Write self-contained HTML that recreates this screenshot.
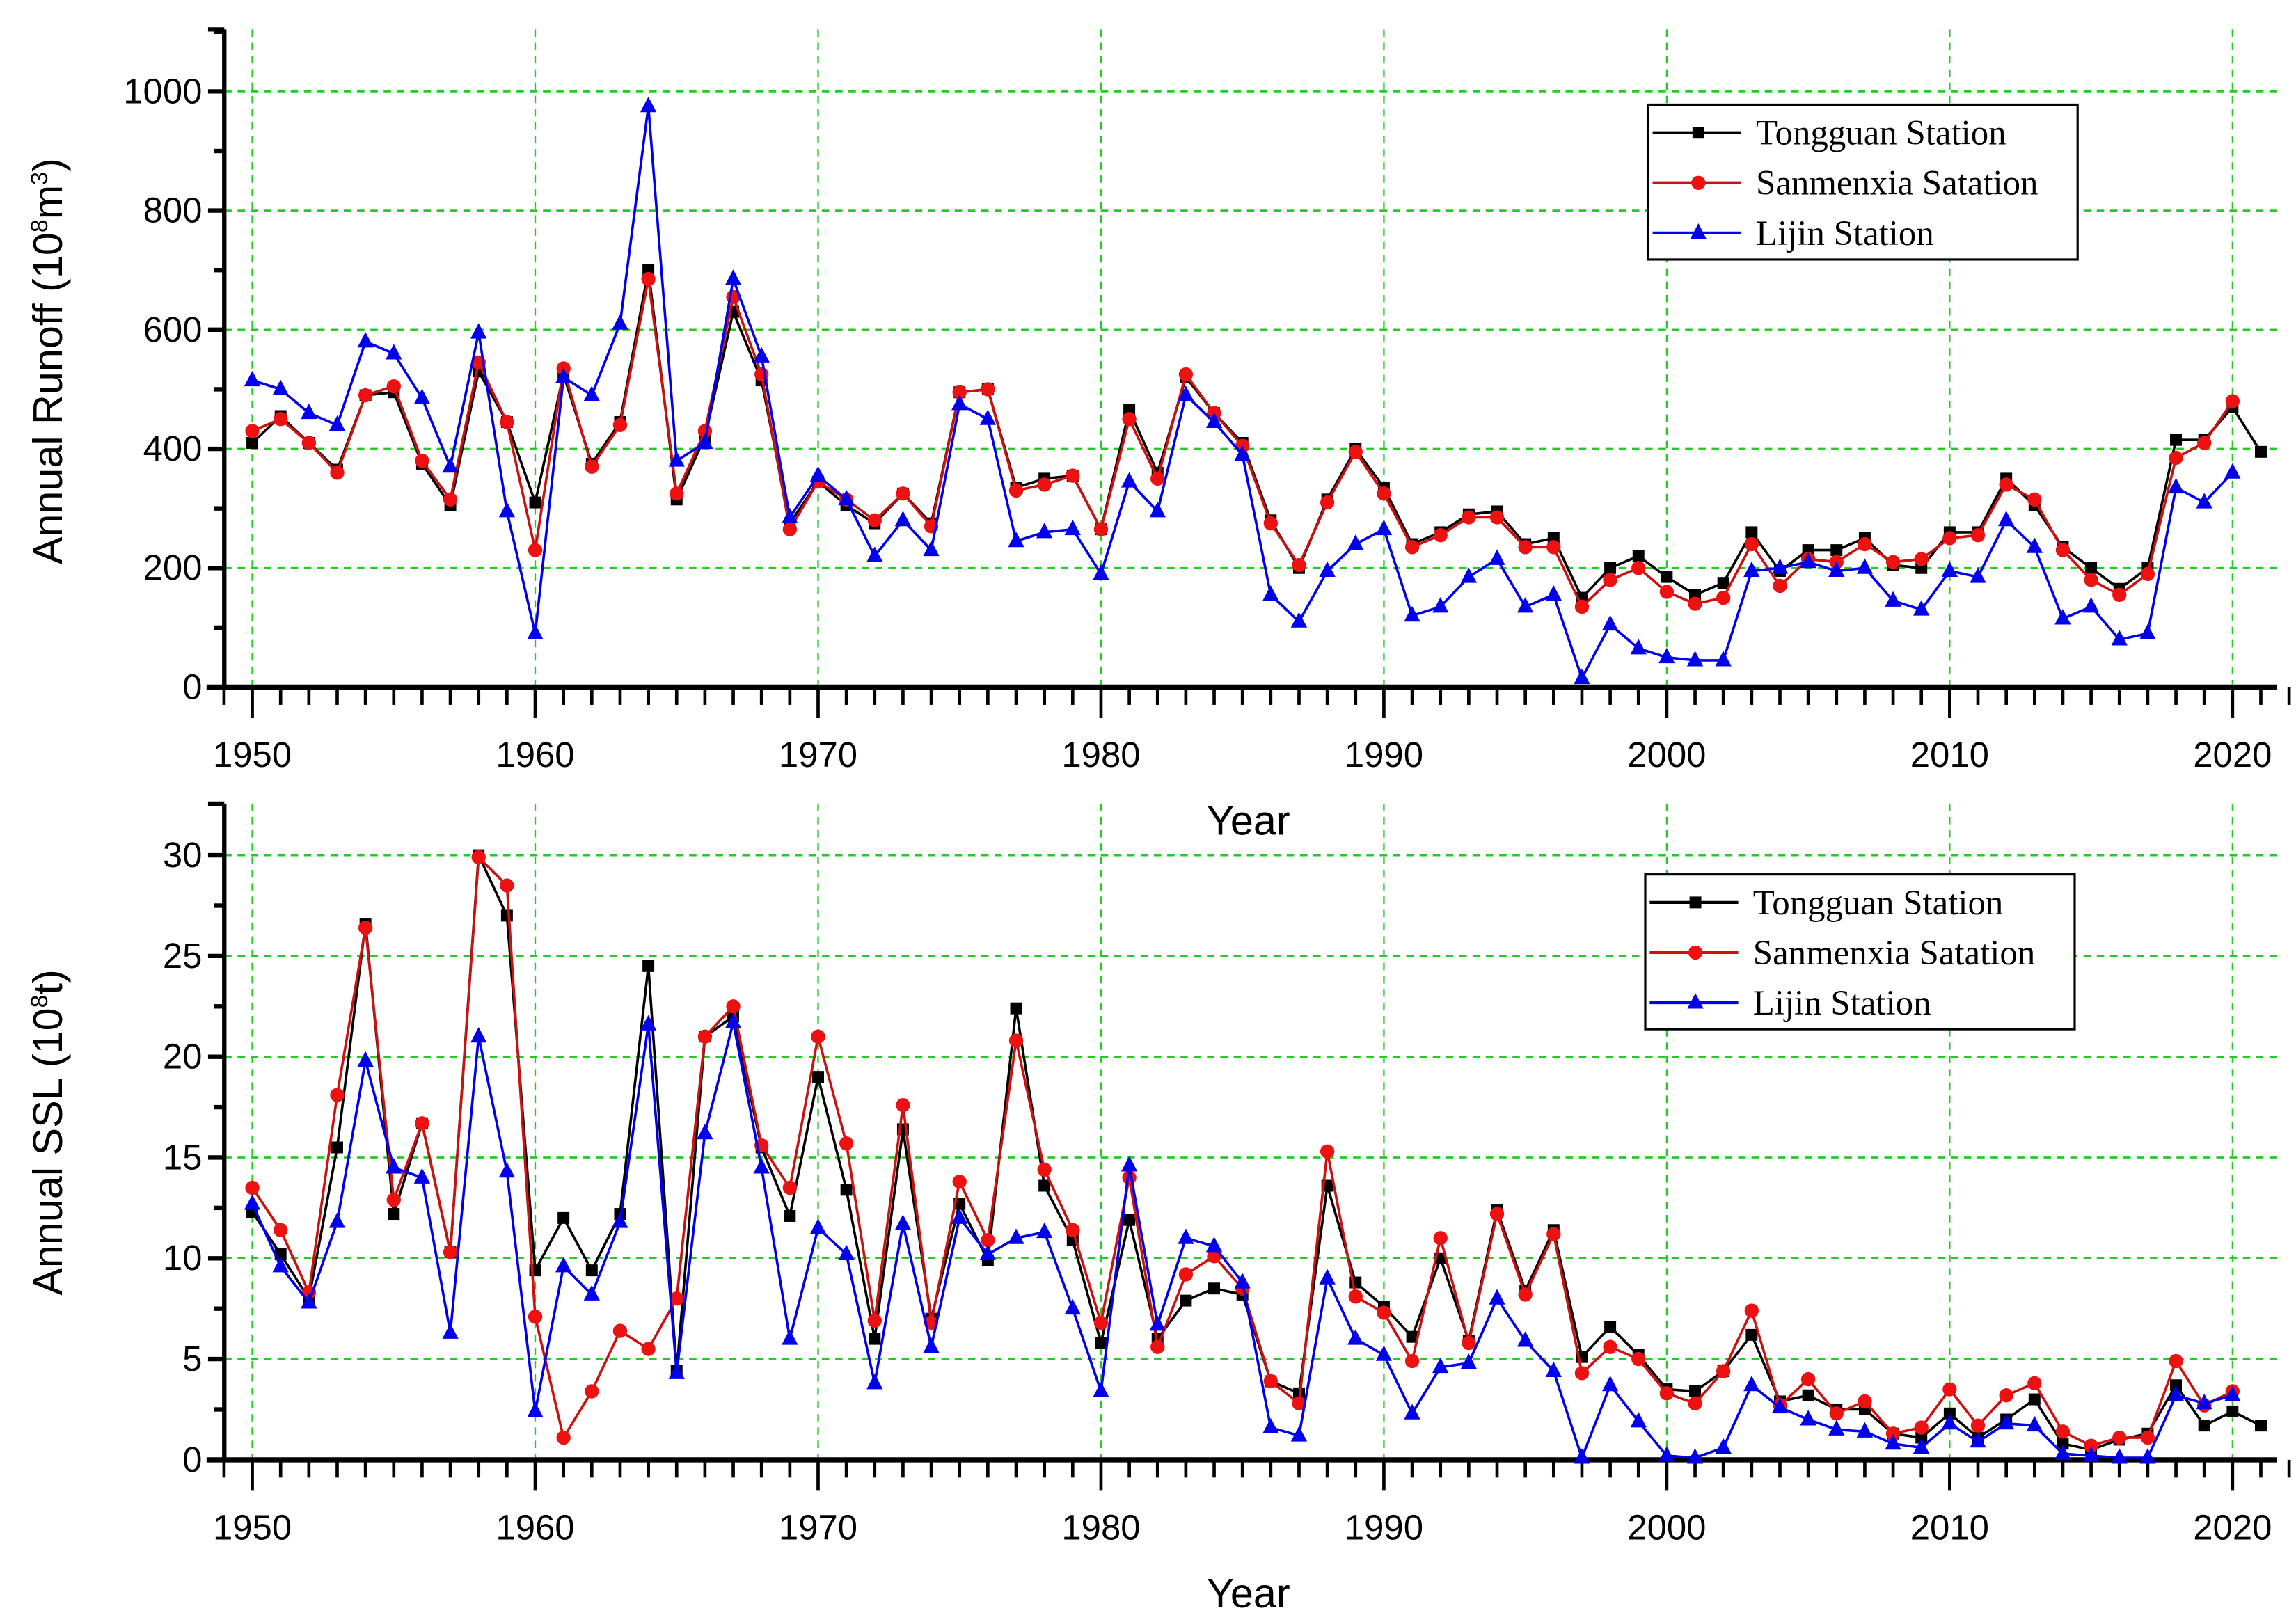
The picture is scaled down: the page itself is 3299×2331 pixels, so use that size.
<!DOCTYPE html>
<html><head><meta charset="utf-8"><style>
html,body{margin:0;padding:0;background:#fff;}
svg{display:block;}
</style></head><body>
<svg id="chart" width="3299" height="2331" viewBox="0 0 1556 1100" preserveAspectRatio="none" xmlns="http://www.w3.org/2000/svg"></svg>
<script>
const years = [];
for (let y = 1950; y <= 2021; y++) years.push(y);
const runoffTongguan = [410,455,410,365,490,495,375,305,530,445,310,525,375,445,700,315,420,630,515,275,345,305,275,325,275,495,500,335,350,355,265,465,360,520,460,410,280,200,315,400,335,240,260,290,295,240,250,150,200,220,185,155,175,260,195,230,230,250,205,200,260,260,350,305,235,200,165,200,415,415,470,395];
const runoffSanmenxia = [430,450,410,360,490,505,380,315,545,445,230,535,370,440,685,325,430,655,525,265,345,315,280,325,270,495,500,330,340,355,265,450,350,525,460,405,275,205,310,395,325,235,255,285,285,235,235,135,180,200,160,140,150,240,170,215,210,240,210,215,250,255,340,315,230,180,155,190,385,410,480];
const runoffLijin = [515,500,460,440,580,560,485,370,595,295,90,520,490,610,975,380,410,685,555,285,355,315,220,280,230,475,450,245,260,265,190,345,295,490,445,390,155,110,195,240,265,120,135,185,215,135,155,15,105,65,50,45,45,195,200,210,195,200,145,130,195,185,280,235,115,135,80,90,335,310,360];
const sslTongguan = [12.3,10.2,8,15.5,26.6,12.2,16.7,10.3,30,27,9.4,12,9.4,12.2,24.5,4.4,21,22,15.5,12.1,19,13.4,6,16.4,7,12.7,9.9,22.4,13.6,10.9,5.8,11.9,6,7.9,8.5,8.2,3.9,3.3,13.6,8.8,7.6,6.1,10,5.9,12.4,8.4,11.4,5.1,6.6,5.2,3.5,3.4,4.4,6.2,2.9,3.2,2.5,2.5,1.3,1.1,2.3,1.1,2,3,0.8,0.5,1,1.3,3.7,1.7,2.4,1.7];
const sslSanmenxia = [13.5,11.4,8.3,18.1,26.4,12.9,16.7,10.3,29.9,28.5,7.1,1.1,3.4,6.4,5.5,8,21,22.5,15.6,13.5,21,15.7,6.9,17.6,6.8,13.8,10.9,20.8,14.4,11.4,6.8,14,5.6,9.2,10.1,8.5,3.9,2.8,15.3,8.1,7.3,4.9,11,5.8,12.2,8.2,11.2,4.3,5.6,5,3.3,2.8,4.4,7.4,2.7,4,2.3,2.9,1.3,1.6,3.5,1.7,3.2,3.8,1.4,0.7,1.1,1.1,4.9,2.7,3.4];
const sslLijin = [12.7,9.6,7.8,11.8,19.8,14.5,14,6.3,21,14.3,2.4,9.6,8.2,11.8,21.6,4.3,16.2,21.7,14.5,6,11.5,10.2,3.8,11.7,5.6,12,10.2,11,11.3,7.5,3.4,14.6,6.7,11,10.6,8.8,1.6,1.2,9,6,5.2,2.3,4.6,4.8,8,5.9,4.4,0.1,3.7,1.9,0.2,0.1,0.6,3.7,2.6,2,1.5,1.4,0.8,0.6,1.8,0.9,1.8,1.7,0.3,0.2,0.1,0.1,3.2,2.8,3.2];
const xTickLabels = ["1950","1960","1970","1980","1990","2000","2010","2020"];
const runoffTicks = [0,200,400,600,800,1000];
const sslTicks = [0,5,10,15,20,25,30];
const seriesNames = ["Tongguan Station","Sanmenxia Satation","Lijin Station"];

const NS = "http://www.w3.org/2000/svg";
const svg = document.getElementById('chart');
function el(tag, attrs, parent) {
  const e = document.createElementNS(NS, tag);
  for (const k in attrs) e.setAttribute(k, attrs[k]);
  (parent || svg).appendChild(e);
  return e;
}
const X0 = 152, XR = 1543;
function xs(year) { return 171 + (year - 1950) * (1513 - 171) / 70; }

function panel(cfg) {
  const g = el('g', {});
  
  
  const ys = v => cfg.y0 + (v - 0) * (cfg.yTopVal - cfg.y0) / cfg.topTickVal;
  const grid = el('g', {}, g);
  
  
  cfg.ticks.forEach(t => { if (t > 0) el('line', {x1: X0, x2: XR, y1: ys(t), y2: ys(t), stroke: '#22cc22', 'stroke-width': 1.3, 'stroke-dasharray': '5,4'}, grid); });
  xTickLabels.forEach(l => { const x = xs(+l); el('line', {x1: x, x2: x, y1: cfg.yTop, y2: cfg.y0, stroke: '#22cc22', 'stroke-width': 1.1, 'stroke-dasharray': '5,4'}, grid); });
  const yAxis = el('g', {}, g);
  
  
  el('line', {x1: X0, x2: X0, y1: cfg.yTop, y2: cfg.y0 + 1.5, stroke: '#000', 'stroke-width': 3}, yAxis);
  cfg.ticks.forEach((t, i) => {
    el('line', {x1: X0 - 11, x2: X0, y1: ys(t), y2: ys(t), stroke: '#000', 'stroke-width': 3}, yAxis);
    if (i < cfg.ticks.length - 1 || cfg.minorTop) {
      const m = t + (cfg.ticks[1] - cfg.ticks[0]) / 2;
      if (ys(m) > cfg.yTop) el('line', {x1: X0 - 7, x2: X0, y1: ys(m), y2: ys(m), stroke: '#000', 'stroke-width': 3}, yAxis);
    }
    const tx = el('text', {x: X0 - 15, y: ys(t) + 8, 'text-anchor': 'end', 'font-size': 24, 'font-family': 'Liberation Sans, sans-serif'}, yAxis);
    tx.textContent = t;
  });
  el('line', {x1: X0 - 11, x2: X0, y1: cfg.yTop, y2: cfg.yTop, stroke: '#000', 'stroke-width': 3}, yAxis);
  const xAxis = el('g', {}, g);
  
  
  el('line', {x1: X0 - 12, x2: XR, y1: cfg.y0, y2: cfg.y0, stroke: '#000', 'stroke-width': 3.5}, xAxis);
  for (let yr = 1949; yr <= 2022; yr++) {
    const major = yr % 10 === 0;
    el('line', {x1: xs(yr), x2: xs(yr), y1: cfg.y0, y2: cfg.y0 + (major ? 21 : 12), stroke: '#000', 'stroke-width': 2.2}, xAxis);
  }
  xTickLabels.forEach(l => {
    const t = el('text', {x: xs(+l), y: cfg.y0 + 54, 'text-anchor': 'middle', 'font-size': 24, 'font-family': 'Liberation Sans, sans-serif'}, xAxis);
    t.textContent = l;
  });
  const xt = el('text', {x: 846, y: cfg.y0 + 100, 'text-anchor': 'middle', 'font-size': 28, 'font-family': 'Liberation Sans, sans-serif'}, g);
  
  
  xt.textContent = 'Year';
  const yt = el('text', {x: 0, y: 0, 'text-anchor': 'middle', 'font-size': 28, 'font-family': 'Liberation Sans, sans-serif', transform: `translate(42,${cfg.titleY}) rotate(-90)`}, g);
  
  
  yt.innerHTML = cfg.title;
  const colors = ['#000000', '#ee1111', '#0000ee'];
  const lineCols = ['#000000', '#cc1111', '#0000ee'];
  cfg.series.forEach((arr, si) => {
    const sg = el('g', {}, g);
    
    
    const pts = arr.map((v, i) => xs(years[i]) + ',' + ys(v)).join(' ');
    el('polyline', {points: pts, fill: 'none', stroke: lineCols[si], 'stroke-width': 1.7}, sg);
    arr.forEach((v, i) => {
      const x = xs(years[i]), y = ys(v);
      let m;
      if (si === 0) m = el('rect', {x: x - 4, y: y - 4, width: 8, height: 8, fill: colors[0]}, sg);
      else if (si === 1) m = el('circle', {cx: x, cy: y, r: 4.8, fill: colors[1]}, sg);
      else m = el('polygon', {points: `${x},${y - 6.5} ${x - 5.5},${y + 4} ${x + 5.5},${y + 4}`, fill: colors[2]}, sg);
      
      
    });
  });
  const lg = el('g', {}, g);
  
  
  el('rect', {x: cfg.lx, y: cfg.ly, width: 291, height: 105, fill: '#fff', stroke: '#000', 'stroke-width': 1.5}, lg);
  seriesNames.forEach((n, i) => {
    const ey = cfg.ly + 19 + i * 34;
    const e = el('g', {}, lg);
    
    
    el('line', {x1: cfg.lx + 3, x2: cfg.lx + 63, y1: ey, y2: ey, stroke: lineCols[i], 'stroke-width': 2}, e);
    const cx = cfg.lx + 34;
    if (i === 0) el('rect', {x: cx - 4, y: ey - 4, width: 8, height: 8, fill: colors[0]}, e);
    else if (i === 1) el('circle', {cx: cx, cy: ey, r: 4.8, fill: colors[1]}, e);
    else el('polygon', {points: `${cx},${ey - 6.5} ${cx - 5.5},${ey + 4} ${cx + 5.5},${ey + 4}`, fill: colors[2]}, e);
    const t = el('text', {x: cfg.lx + 73, y: ey + 8, 'font-size': 24, 'font-family': 'Liberation Serif, serif'}, e);
    t.textContent = n;
  });
}

panel({name: 'runoff-panel', y0: 466, yTop: 20, yTopVal: 62, topTickVal: 1000, ticks: runoffTicks, minorTop: true, titleY: 245,
  title: 'Annual Runoff (10<tspan font-size="16" dy="-10">8</tspan><tspan dy="10">m</tspan><tspan font-size="16" dy="-10">3</tspan><tspan dy="10">)</tspan>',
  series: [runoffTongguan, runoffSanmenxia, runoffLijin], lx: 1117, ly: 71});
panel({name: 'ssl-panel', y0: 990, yTop: 545, yTopVal: 580, topTickVal: 30, ticks: sslTicks, minorTop: false, titleY: 768,
  title: 'Annual SSL (10<tspan font-size="16" dy="-10">8</tspan><tspan dy="10">t)</tspan>',
  series: [sslTongguan, sslSanmenxia, sslLijin], lx: 1115, ly: 593});
</script>
</body></html>
